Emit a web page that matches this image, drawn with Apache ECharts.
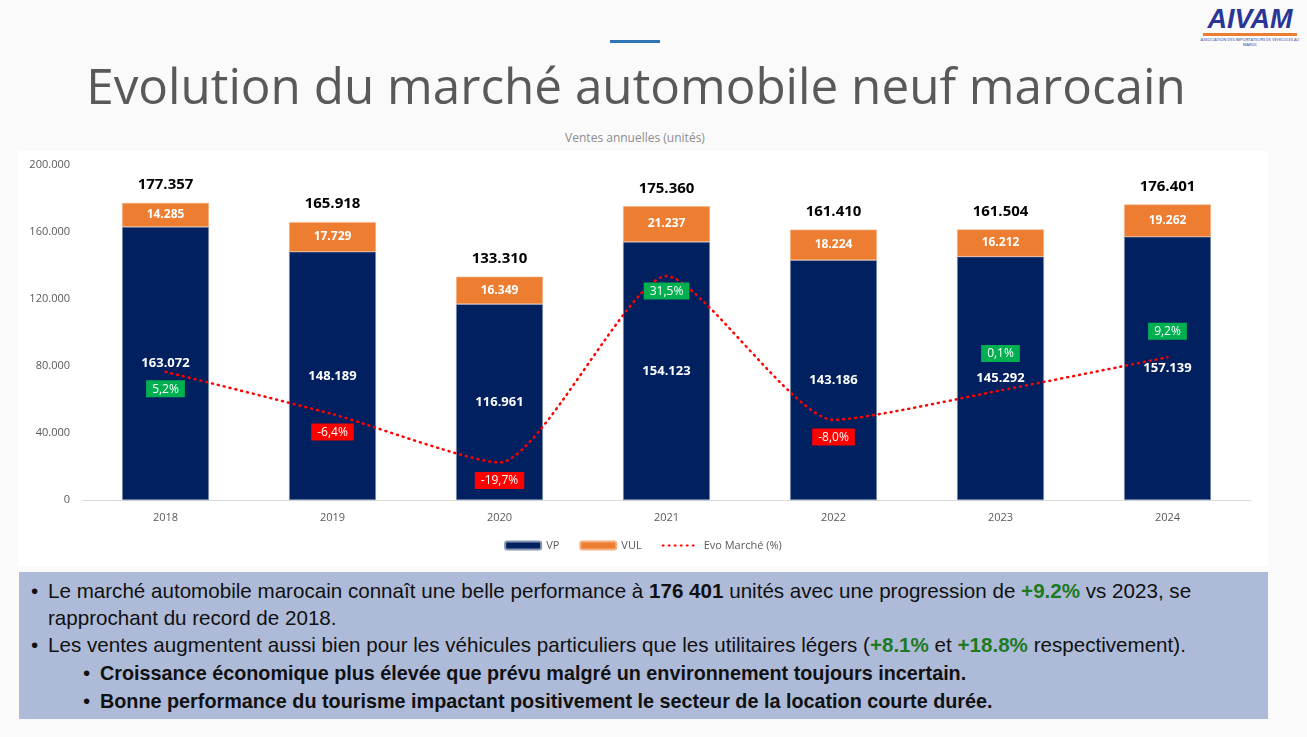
<!doctype html>
<html lang="fr">
<head>
<meta charset="UTF-8">
<title>Evolution du marché automobile neuf marocain</title>
<script src="https://cdn.jsdelivr.net/npm/echarts@6/dist/echarts.min.js"></script>
<style>
    body { margin: 0; width: 1307px; height: 737px; background: #fafafa; position: relative; overflow: hidden; font-family: "Open Sans", "Noto Sans", sans-serif; }
    #topline { position: absolute; left: 610px; top: 40px; width: 50px; height: 3px; background: #2e75b6; }
    #title { position: absolute; left: 0; width: 1272px; top: 51px; text-align: center; font-size: 49.4px; color: #595959; white-space: nowrap; }
    #logo { position: absolute; left: 1200px; top: 6px; width: 100px; text-align: center; }
    #logo .name { font: bold italic 27px "Liberation Sans", sans-serif; color: #2b3596; line-height: 27px; }
    #logo .bar { height: 3px; background: #ed7d31; margin: 0 3px 1px 3px; }
    #logo .sub { font-size: 4px; color: #2b3596; line-height: 5px; }
    #subtitle { position: absolute; left: 0; width: 1270px; top: 129px; text-align: center; font-size: 12px; color: #8c8c8c; }
    #main { position: absolute; left: 18px; top: 151px; width: 1250px; height: 415px; background: #fff; }
    #box { position: absolute; left: 19px; top: 572px; width: 1249px; height: 147px; background: #adbad8; font-family: "Liberation Sans", sans-serif; font-size: 20.6px; color: #111; }
    #box .l { position: absolute; white-space: nowrap; line-height: 24px; }
    #box .s { font-size: 19.8px; font-weight: bold; }
    #box .g { color: #1e7a1e; font-weight: bold; }
</style>
</head>
<body>
<div id="topline"></div>
<div id="title">Evolution du marché automobile neuf marocain</div>
<div id="logo"><div class="name">AIVAM</div><div class="bar"></div><div class="sub">ASSOCIATION DES IMPORTATEURS DE VEHICULES AU MAROC</div></div>
<div id="subtitle">Ventes annuelles (unités)</div>
<div id="main"></div>
<div id="box">
    <div class="l" style="left:12px;top:7px">•</div>
    <div class="l" style="left:29px;top:7px">Le marché automobile marocain connaît une belle performance à <b>176 401</b> unités avec une progression de <span class="g">+9.2%</span> vs 2023, se</div>
    <div class="l" style="left:29px;top:34px">rapprochant du record de 2018.</div>
    <div class="l" style="left:12px;top:61px">•</div>
    <div class="l" style="left:29px;top:61px">Les ventes augmentent aussi bien pour les véhicules particuliers que les utilitaires légers (<span class="g">+8.1%</span> et <span class="g">+18.8%</span> respectivement).</div>
    <div class="l" style="left:64px;top:89px">•</div>
    <div class="l s" style="left:81px;top:89px">Croissance économique plus élevée que prévu malgré un environnement toujours incertain.</div>
    <div class="l" style="left:64px;top:117px">•</div>
    <div class="l s" style="left:81px;top:117px">Bonne performance du tourisme impactant positivement le secteur de la location courte durée.</div>
</div>
<script type="text/javascript">
    // données
    var years = ['2018', '2019', '2020', '2021', '2022', '2023', '2024'];
    var vp = [163072, 148189, 116961, 154123, 143186, 145292, 157139];
    var vul = [14285, 17729, 16349, 21237, 18224, 16212, 19262];
    var totals = [177357, 165918, 133310, 175360, 161410, 161504, 176401];
    var evo = [5.2, -6.4, -19.7, 31.5, -8.0, 0.1, 9.2];
    // position des étiquettes d'évolution
    var evoLabelPos = ['bottom', 'bottom', 'bottom', 'bottom', 'bottom', 'top', 'top'];
    var evoLabelDist = [8, 9, 9, 6, 8, 28, 17];

    function fmt(v) {
        return String(v).replace(/\B(?=(\d{3})+(?!\d))/g, '.');
    }

    var evoData = evo.map(function (v, i) {
        return {
            value: v,
            label: {
                position: evoLabelPos[i],
                distance: evoLabelDist[i],
                backgroundColor: v >= 0 ? '#00b050' : '#ff0000'
            }
        };
    });

    var chart = echarts.init(document.getElementById('main'));
    var option = {
        animation: false,
        textStyle: { fontFamily: 'Open Sans, Noto Sans, sans-serif' },
        grid: { left: 64, right: 17, top: 14, bottom: 66, containLabel: false },
        legend: {
            data: ['VP', 'VUL', 'Evo Marché (%)'],
            bottom: 10,
            left: 'center',
            itemWidth: 36,
            itemHeight: 8,
            itemGap: 20,
            textStyle: { color: '#595959', fontSize: 11 }
        },
        xAxis: {
            type: 'category',
            data: years,
            axisTick: { show: false },
            axisLine: { lineStyle: { color: '#d9d9d9', width: 1 } },
            axisLabel: { color: '#595959', fontSize: 11, margin: 12 }
        },
        yAxis: [{
            type: 'value',
            min: 0,
            max: 200000,
            interval: 40000,
            splitLine: { show: false },
            axisLine: { show: false },
            axisLabel: { color: '#595959', fontSize: 11, margin: 12, formatter: fmt }
        }, {
            type: 'value',
            show: false,
            min: -30,
            max: 62
        }],
        series: [{
            name: 'VP',
            type: 'bar',
            stack: 'total',
            barWidth: '52%',
            data: vp,
            itemStyle: { color: '#002060', borderColor: '#8497b0', borderWidth: 0.6 },
            label: { show: true, position: 'inside', color: '#fff', fontWeight: 'bold', fontSize: 13, formatter: function (p) { return fmt(p.value); } }
        }, {
            name: 'VUL',
            type: 'bar',
            stack: 'total',
            data: vul,
            itemStyle: { color: '#ed7d31', borderColor: '#f4b183', borderWidth: 0.6 },
            label: { show: true, position: 'inside', color: '#fff', fontWeight: 'bold', fontSize: 12, formatter: function (p) { return fmt(p.value); } }
        }, {
            name: 'Total',
            type: 'line',
            data: totals,
            symbol: 'circle',
            symbolSize: 1,
            itemStyle: { color: 'rgba(0,0,0,0)' },
            lineStyle: { width: 0, opacity: 0 },
            z: 5,
            label: { show: true, position: 'top', distance: 10, color: '#000', fontWeight: 'bold', fontSize: 15, formatter: function (p) { return fmt(p.value); } }
        }, {
            name: 'Evo Marché (%)',
            type: 'line',
            yAxisIndex: 1,
            data: evoData,
            smooth: 0.2,
            symbol: 'circle',
            symbolSize: 1,
            z: 4,
            itemStyle: { color: 'rgba(255,0,0,0)' },
            lineStyle: { color: '#ff0000', width: 2.5, type: [1, 5], cap: 'round' },
            label: {
                show: true,
                color: '#fff',
                fontSize: 12,
                padding: [3, 6, 2, 6],
                formatter: function (p) { return p.value.toFixed(1).replace('.', ',') + '%'; }
            }
        }]
    };
    chart.setOption(option);
</script>
</body>
</html>
